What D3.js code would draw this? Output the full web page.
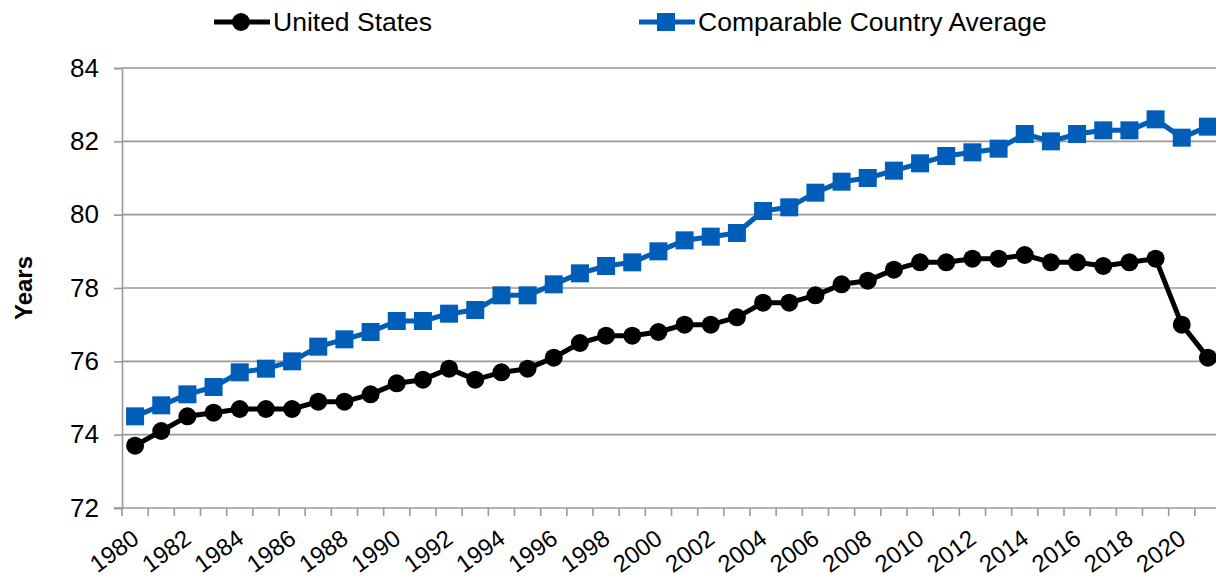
<!DOCTYPE html>
<html>
<head>
<meta charset="utf-8">
<script src="https://cdn.jsdelivr.net/npm/d3@7"></script>
<style>
  html, body { margin: 0; padding: 0; background: #fff; }
  svg { display: block; font-family: "Liberation Sans", Arial, sans-serif; }
</style>
</head>
<body>
<svg id="chart" width="1216" height="578"></svg>
<script>
// ── Data ─────────────────────────────────────────────
const years = d3.range(1980, 2022);

const usLifeExp = [
  73.7, 74.1, 74.5, 74.6, 74.7, 74.7, 74.7, 74.9, 74.9, 75.1,
  75.4, 75.5, 75.8, 75.5, 75.7, 75.8, 76.1, 76.5, 76.7, 76.7,
  76.8, 77.0, 77.0, 77.2, 77.6, 77.6, 77.8, 78.1, 78.2, 78.5,
  78.7, 78.7, 78.8, 78.8, 78.9, 78.7, 78.7, 78.6, 78.7, 78.8,
  77.0, 76.1
];

const peerLifeExp = [
  74.5, 74.8, 75.1, 75.3, 75.7, 75.8, 76.0, 76.4, 76.6, 76.8,
  77.1, 77.1, 77.3, 77.4, 77.8, 77.8, 78.1, 78.4, 78.6, 78.7,
  79.0, 79.3, 79.4, 79.5, 80.1, 80.2, 80.6, 80.9, 81.0, 81.2,
  81.4, 81.6, 81.7, 81.8, 82.2, 82.0, 82.2, 82.3, 82.3, 82.6,
  82.1, 82.4
];

const yTicks = [72, 74, 76, 78, 80, 82, 84];
const xLabelYears = years.filter(y => y % 2 === 0);

const series = [
  { name: 'United States',              values: usLifeExp,   color: '#000000', marker: 'circle' },
  { name: 'Comparable Country Average', values: peerLifeExp, color: '#005EB8', marker: 'square' },
];

// ── Layout ───────────────────────────────────────────
const svg = d3.select('#chart');
const plot = { left: 122, top: 68, right: 1221, bottom: 508 };
const FONT = '"Liberation Sans", Arial, sans-serif';

const x = d3.scaleBand()
  .domain(years)
  .range([plot.left, plot.right]);

const y = d3.scaleLinear()
  .domain([72, 84])
  .range([plot.bottom, plot.top]);

const gridColor = '#999999';

// ── Grid lines ───────────────────────────────────────
svg.append('g')
  .selectAll('line')
  .data(yTicks.filter(t => t !== 72))
  .join('line')
    .attr('x1', plot.left).attr('x2', 1216)
    .attr('y1', d => y(d)).attr('y2', d => y(d))
    .attr('stroke', gridColor)
    .attr('stroke-width', 1.6);

// ── Axes ─────────────────────────────────────────────
const yAxis = svg.append('g')
  .attr('transform', `translate(${plot.left},0)`)
  .call(d3.axisLeft(y).tickValues(yTicks).tickSize(8).tickPadding(15).tickFormat(d3.format('d')));
yAxis.select('.domain').attr('stroke', gridColor).attr('stroke-width', 1.6);
yAxis.selectAll('.tick line').attr('stroke', gridColor).attr('stroke-width', 1.6);
yAxis.selectAll('text')
  .attr('fill', '#000')
  .attr('font-size', 26)
  .attr('font-family', FONT);

// x axis: category ticks sit between the bands
const xAxis = svg.append('g');
xAxis.append('line')
  .attr('x1', plot.left - 8).attr('x2', 1216)
  .attr('y1', plot.bottom).attr('y2', plot.bottom)
  .attr('stroke', gridColor).attr('stroke-width', 1.6);
xAxis.selectAll('.xtick')
  .data(years)
  .join('line')
    .attr('class', 'xtick')
    .attr('x1', d => x(d)).attr('x2', d => x(d))
    .attr('y1', plot.bottom).attr('y2', plot.bottom + 8)
    .attr('stroke', gridColor).attr('stroke-width', 1.6);
xAxis.selectAll('.xlabel')
  .data(xLabelYears)
  .join('text')
    .attr('class', 'xlabel')
    .attr('transform', d => `translate(${x(d) + x.bandwidth() / 2 + 5.5},${plot.bottom + 34}) rotate(-36)`)
    .attr('text-anchor', 'end')
    .attr('font-size', 24)
    .attr('fill', '#000')
    .text(d => d);

// y axis title
svg.append('text')
  .attr('transform', `translate(32,${(plot.top + plot.bottom) / 2}) rotate(-90)`)
  .attr('text-anchor', 'middle')
  .attr('font-size', 24)
  .attr('font-weight', 'bold')
  .attr('fill', '#000')
  .text('Years');

// ── Lines & markers ──────────────────────────────────
const cx = i => x(years[i]) + x.bandwidth() / 2;

const line = d3.line()
  .x((d, i) => cx(i))
  .y(d => y(d));

function drawMarker(sel, s, px, py) {
  if (s.marker === 'circle') {
    sel.append('circle')
      .attr('cx', px).attr('cy', py).attr('r', 9)
      .attr('fill', s.color);
  } else {
    sel.append('rect')
      .attr('x', px - 9).attr('y', py - 9)
      .attr('width', 18).attr('height', 18)
      .attr('fill', s.color);
  }
}

series.forEach(s => {
  const g = svg.append('g');
  g.append('path')
    .datum(s.values)
    .attr('d', line)
    .attr('fill', 'none')
    .attr('stroke', s.color)
    .attr('stroke-width', 5)
    .attr('stroke-linejoin', 'round');
  s.values.forEach((v, i) => drawMarker(g, s, cx(i), y(v)));
});

// ── Legend ───────────────────────────────────────────
const legendItems = [
  { s: series[0], x: 214 },
  { s: series[1], x: 639 },
];
legendItems.forEach(({ s, x: lx }) => {
  const g = svg.append('g');
  g.append('line')
    .attr('x1', lx).attr('x2', lx + 56)
    .attr('y1', 22).attr('y2', 22)
    .attr('stroke', s.color).attr('stroke-width', 5);
  drawMarker(g, s, lx + 27, 22);
  g.append('text')
    .attr('x', lx + 59).attr('y', 31)
    .attr('font-size', 26.5)
    .attr('fill', '#000')
    .text(s.name);
});
</script>
</body>
</html>
